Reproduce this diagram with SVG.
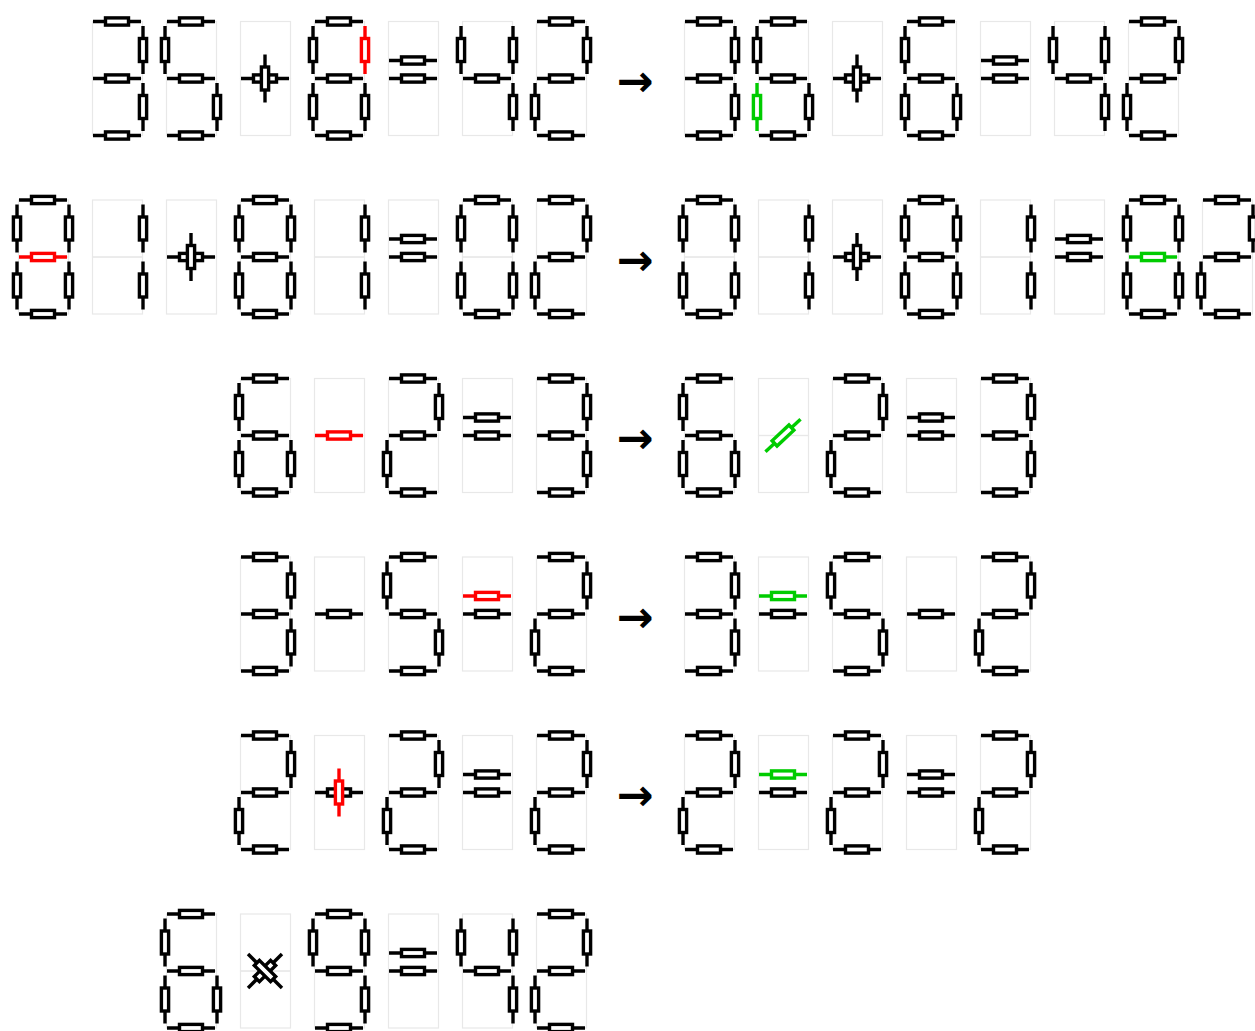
<svg xmlns="http://www.w3.org/2000/svg" xmlns:xlink="http://www.w3.org/1999/xlink" width="1255" height="1031" viewBox="0 0 1255 1031">
<style>
.arrow{font-family:"DejaVu Sans",sans-serif;font-weight:bold;font-size:44px;fill:#000;text-anchor:middle}
</style>
<defs>
<g id="h" stroke="currentColor" stroke-width="3.4" fill="#fff"><line x1="-24" y1="0" x2="24" y2="0"/><rect x="-11.5" y="-3.6" width="23" height="7.2"/></g>
<g id="v" stroke="currentColor" stroke-width="3.4" fill="#fff"><line x1="0" y1="-24" x2="0" y2="24"/><rect x="-3.6" y="-11.5" width="7.2" height="23"/></g>
<g id="bx" fill="none" stroke="#e8e8e8" stroke-width="1.2"><rect x="0.5" y="0" width="50" height="57"/><rect x="0.5" y="57" width="50" height="57"/></g>
<use id="sa" href="#h" x="25" y="0"/>
<use id="sb" href="#v" x="51" y="28.5"/>
<use id="sc" href="#v" x="51" y="85.5"/>
<use id="sd" href="#h" x="25" y="114"/>
<use id="se" href="#v" x="-1" y="85.5"/>
<use id="sf" href="#v" x="-1" y="28.5"/>
<use id="sg" href="#h" x="25" y="57"/>
<use id="su" href="#h" x="25" y="39"/>
<use id="sp" href="#v" x="25" y="57"/>
<g id="d0"><use href="#bx"/><use href="#sa"/><use href="#sb"/><use href="#sc"/><use href="#sd"/><use href="#se"/><use href="#sf"/></g>
<g id="d1"><use href="#bx"/><use href="#sb"/><use href="#sc"/></g>
<g id="d2"><use href="#bx"/><use href="#sa"/><use href="#sb"/><use href="#sg"/><use href="#se"/><use href="#sd"/></g>
<g id="d3"><use href="#bx"/><use href="#sa"/><use href="#sb"/><use href="#sg"/><use href="#sc"/><use href="#sd"/></g>
<g id="d4"><use href="#bx"/><use href="#sf"/><use href="#sb"/><use href="#sg"/><use href="#sc"/></g>
<g id="d5"><use href="#bx"/><use href="#sa"/><use href="#sf"/><use href="#sg"/><use href="#sc"/><use href="#sd"/></g>
<g id="d6"><use href="#bx"/><use href="#sa"/><use href="#sf"/><use href="#sg"/><use href="#se"/><use href="#sc"/><use href="#sd"/></g>
<g id="d8"><use href="#bx"/><use href="#sa"/><use href="#sb"/><use href="#sc"/><use href="#sd"/><use href="#se"/><use href="#sf"/><use href="#sg"/></g>
<g id="d9"><use href="#bx"/><use href="#sa"/><use href="#sb"/><use href="#sc"/><use href="#sd"/><use href="#sf"/><use href="#sg"/></g>
<g id="op-plus"><use href="#bx"/><use href="#sg"/><use href="#sp"/></g>
<g id="op-minus"><use href="#bx"/><use href="#sg"/></g>
<g id="op-eq"><use href="#bx"/><use href="#su"/><use href="#sg"/></g>
</defs>
<g color="#000">
<!-- Row 1 -->
<g id="r1-l1"><use href="#d3" x="92" y="21.5"/></g>
<g id="r1-l2"><use href="#d5" x="166" y="21.5"/></g>
<g id="r1-l3"><use href="#op-plus" x="240" y="21.5"/></g>
<g id="r1-l4" transform="translate(314,21.5)"><use href="#bx"/><use href="#sa"/><use href="#sc"/><use href="#sd"/><use href="#se"/><use href="#sf"/><use href="#sg"/><use href="#sb" color="#ff0000"/></g>
<g id="r1-l5"><use href="#op-eq" x="388" y="21.5"/></g>
<g id="r1-l6"><use href="#d4" x="462" y="21.5"/></g>
<g id="r1-l7"><use href="#d2" x="536" y="21.5"/></g>
<g id="r1-r1"><use href="#d3" x="684" y="21.5"/></g>
<g id="r1-r2" transform="translate(758,21.5)"><use href="#bx"/><use href="#sa"/><use href="#sf"/><use href="#sg"/><use href="#sc"/><use href="#sd"/><use href="#se" color="#00cc00"/></g>
<g id="r1-r3"><use href="#op-plus" x="832" y="21.5"/></g>
<g id="r1-r4"><use href="#d6" x="906" y="21.5"/></g>
<g id="r1-r5"><use href="#op-eq" x="980" y="21.5"/></g>
<g id="r1-r6"><use href="#d4" x="1054" y="21.5"/></g>
<g id="r1-r7"><use href="#d2" x="1128" y="21.5"/></g>
<!-- Row 2 -->
<g id="r2-l1" transform="translate(18,200)"><use href="#bx"/><use href="#sa"/><use href="#sb"/><use href="#sc"/><use href="#sd"/><use href="#se"/><use href="#sf"/><use href="#sg" color="#ff0000"/></g>
<g id="r2-l2"><use href="#d1" x="92" y="200"/></g>
<g id="r2-l3"><use href="#op-plus" x="166" y="200"/></g>
<g id="r2-l4"><use href="#d8" x="240" y="200"/></g>
<g id="r2-l5"><use href="#d1" x="314" y="200"/></g>
<g id="r2-l6"><use href="#op-eq" x="388" y="200"/></g>
<g id="r2-l7"><use href="#d0" x="462" y="200"/></g>
<g id="r2-l8"><use href="#d2" x="536" y="200"/></g>
<g id="r2-r1"><use href="#d0" x="684" y="200"/></g>
<g id="r2-r2"><use href="#d1" x="758" y="200"/></g>
<g id="r2-r3"><use href="#op-plus" x="832" y="200"/></g>
<g id="r2-r4"><use href="#d8" x="906" y="200"/></g>
<g id="r2-r5"><use href="#d1" x="980" y="200"/></g>
<g id="r2-r6"><use href="#op-eq" x="1054" y="200"/></g>
<g id="r2-r7" transform="translate(1128,200)"><use href="#bx"/><use href="#sa"/><use href="#sb"/><use href="#sc"/><use href="#sd"/><use href="#se"/><use href="#sf"/><use href="#sg" color="#00cc00"/></g>
<g id="r2-r8"><use href="#d2" x="1202" y="200"/></g>
<!-- Row 3 -->
<g id="r3-l1"><use href="#d6" x="240" y="378.5"/></g>
<g id="r3-l2" transform="translate(314,378.5)"><use href="#bx"/><use href="#sg" color="#ff0000"/></g>
<g id="r3-l3"><use href="#d2" x="388" y="378.5"/></g>
<g id="r3-l4"><use href="#op-eq" x="462" y="378.5"/></g>
<g id="r3-l5"><use href="#d3" x="536" y="378.5"/></g>
<g id="r3-r1"><use href="#d6" x="684" y="378.5"/></g>
<g id="r3-r2" transform="translate(758,378.5)"><use href="#bx"/><use href="#h" color="#00cc00" transform="translate(25,57) rotate(-43)"/></g>
<g id="r3-r3"><use href="#d2" x="832" y="378.5"/></g>
<g id="r3-r4"><use href="#op-eq" x="906" y="378.5"/></g>
<g id="r3-r5"><use href="#d3" x="980" y="378.5"/></g>
<!-- Row 4 -->
<g id="r4-l1"><use href="#d3" x="240" y="557"/></g>
<g id="r4-l2"><use href="#op-minus" x="314" y="557"/></g>
<g id="r4-l3"><use href="#d5" x="388" y="557"/></g>
<g id="r4-l4" transform="translate(462,557)"><use href="#bx"/><use href="#sg"/><use href="#su" color="#ff0000"/></g>
<g id="r4-l5"><use href="#d2" x="536" y="557"/></g>
<g id="r4-r1"><use href="#d3" x="684" y="557"/></g>
<g id="r4-r2" transform="translate(758,557)"><use href="#bx"/><use href="#sg"/><use href="#su" color="#00cc00"/></g>
<g id="r4-r3"><use href="#d5" x="832" y="557"/></g>
<g id="r4-r4"><use href="#op-minus" x="906" y="557"/></g>
<g id="r4-r5"><use href="#d2" x="980" y="557"/></g>
<!-- Row 5 -->
<g id="r5-l1"><use href="#d2" x="240" y="735.5"/></g>
<g id="r5-l2" transform="translate(314,735.5)"><use href="#bx"/><use href="#sg"/><use href="#sp" color="#ff0000"/></g>
<g id="r5-l3"><use href="#d2" x="388" y="735.5"/></g>
<g id="r5-l4"><use href="#op-eq" x="462" y="735.5"/></g>
<g id="r5-l5"><use href="#d2" x="536" y="735.5"/></g>
<g id="r5-r1"><use href="#d2" x="684" y="735.5"/></g>
<g id="r5-r2" transform="translate(758,735.5)"><use href="#bx"/><use href="#sg"/><use href="#su" color="#00cc00"/></g>
<g id="r5-r3"><use href="#d2" x="832" y="735.5"/></g>
<g id="r5-r4"><use href="#op-eq" x="906" y="735.5"/></g>
<g id="r5-r5"><use href="#d2" x="980" y="735.5"/></g>
<!-- Row 6 -->
<g id="r6-l1"><use href="#d6" x="166" y="914"/></g>
<g id="r6-l2" transform="translate(240,914)"><use href="#bx"/><use href="#h" transform="translate(25,57) rotate(-45)"/><use href="#h" transform="translate(25,57) rotate(45)"/></g>
<g id="r6-l3"><use href="#d9" x="314" y="914"/></g>
<g id="r6-l4"><use href="#op-eq" x="388" y="914"/></g>
<g id="r6-l5"><use href="#d4" x="462" y="914"/></g>
<g id="r6-l6"><use href="#d2" x="536" y="914"/></g>
</g>
<g id="arrows">
<text class="arrow" x="635" y="96">→</text>
<text class="arrow" x="635" y="274.5">→</text>
<text class="arrow" x="635" y="453">→</text>
<text class="arrow" x="635" y="631.5">→</text>
<text class="arrow" x="635" y="810">→</text>
</g>
</svg>
